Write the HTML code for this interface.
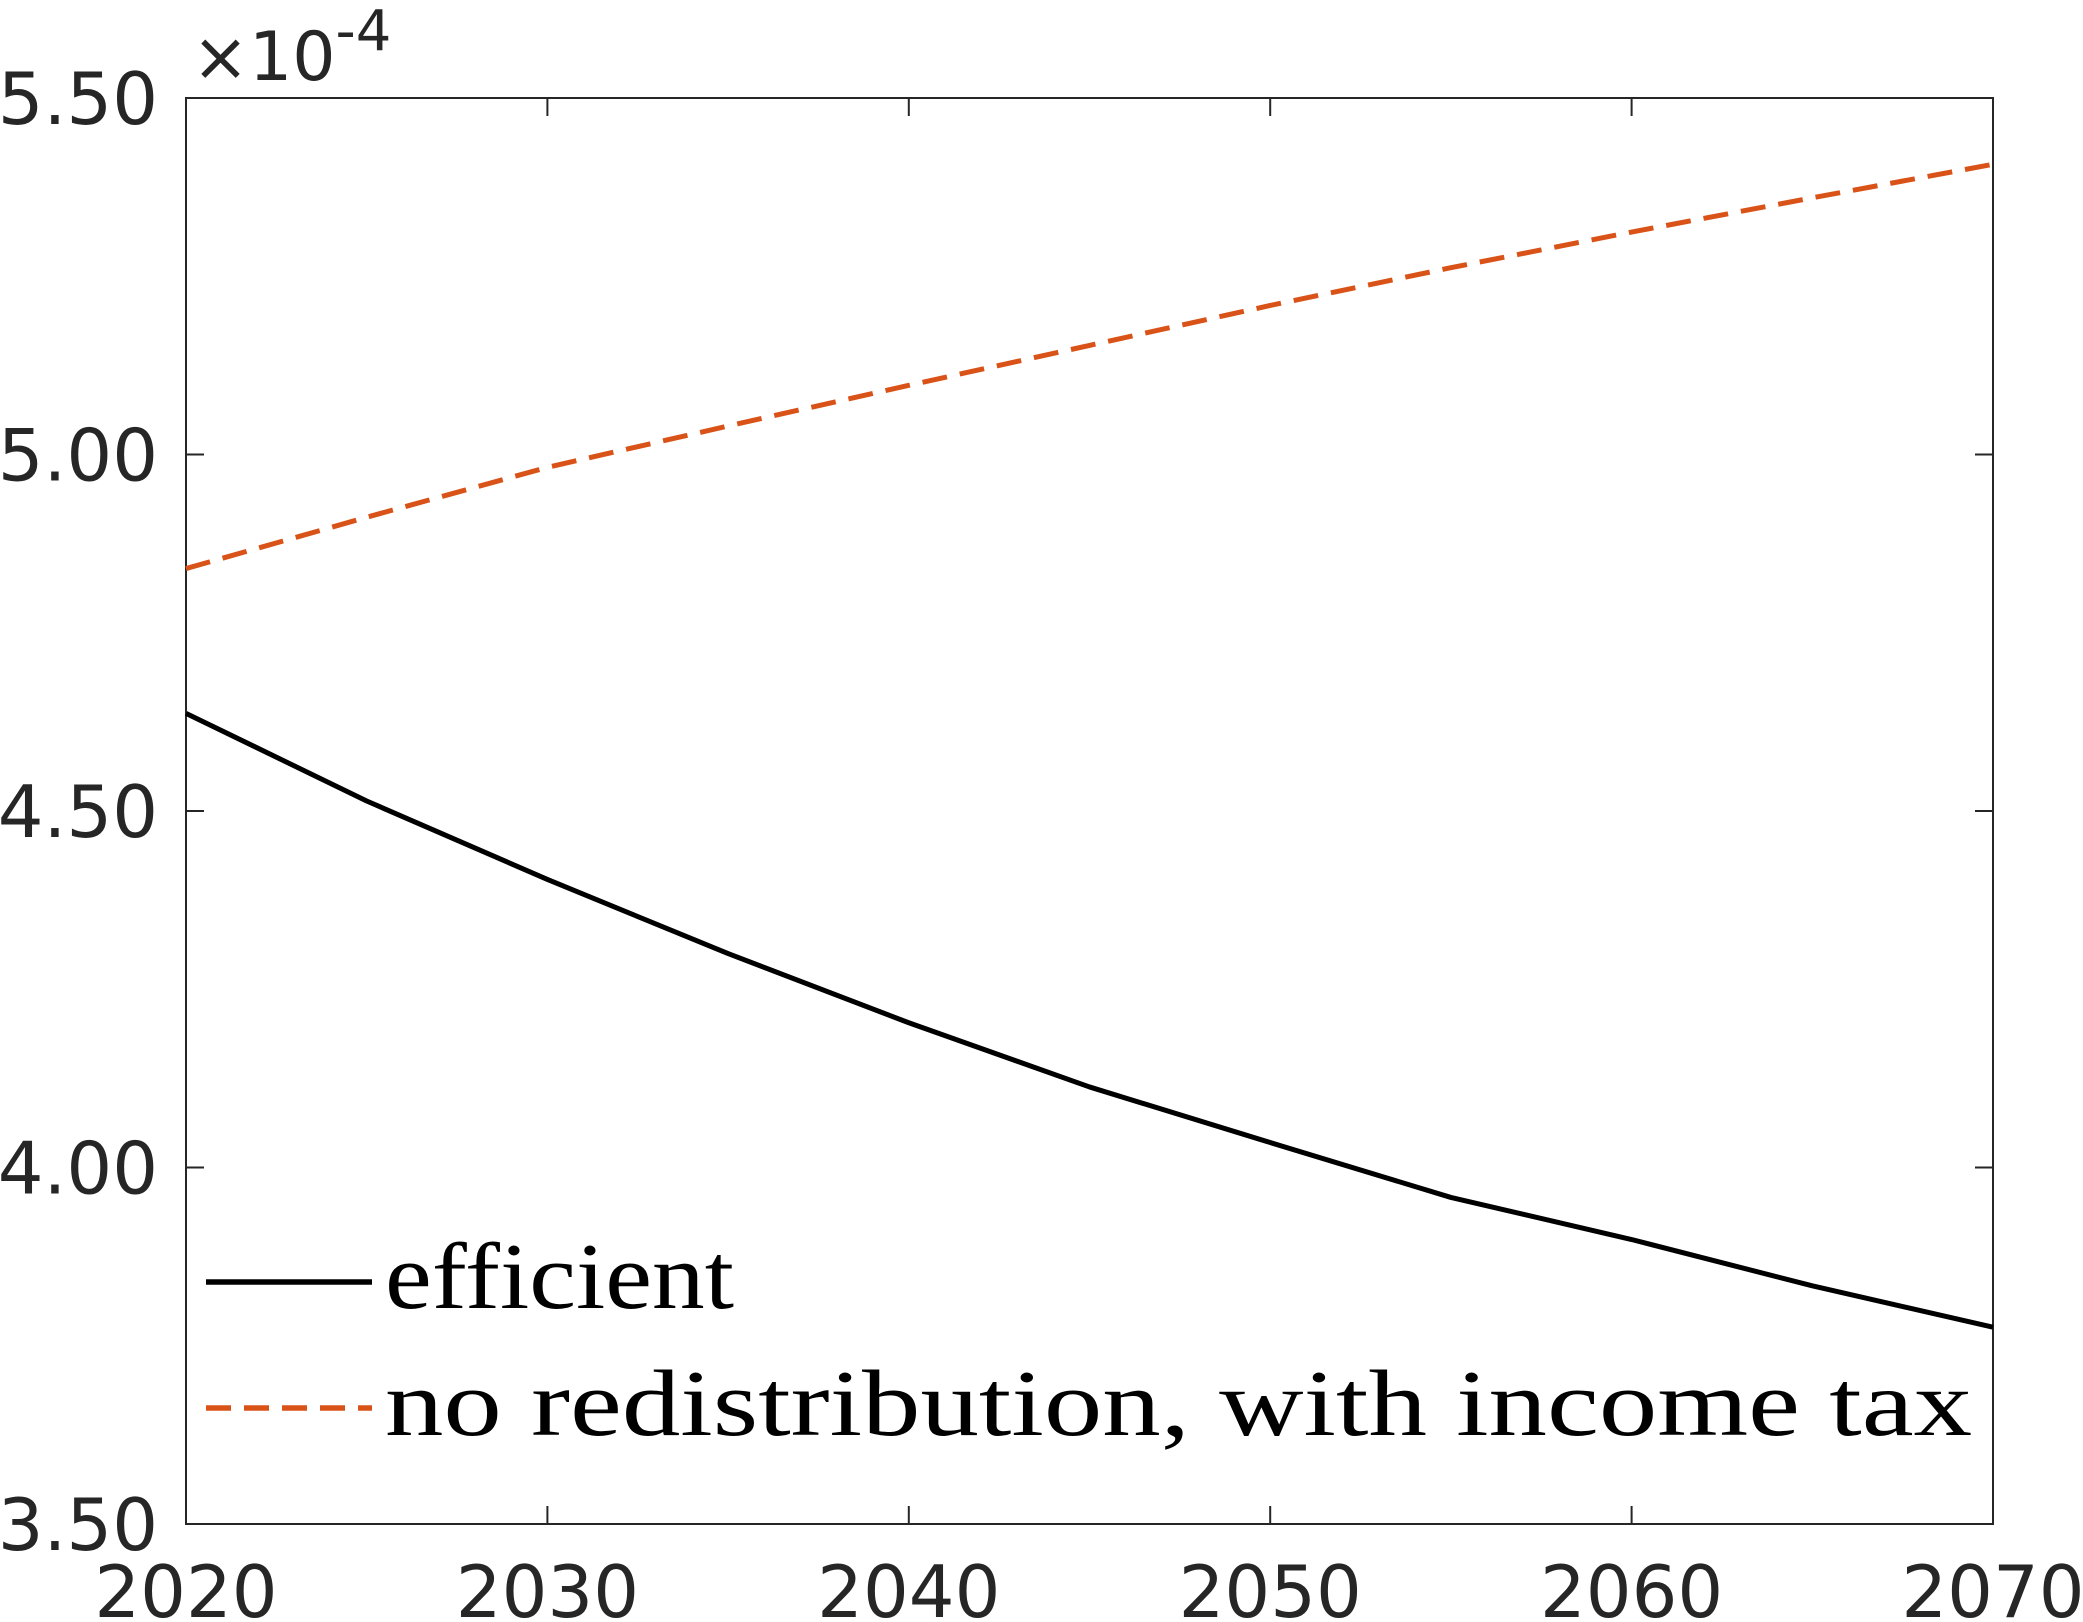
<!DOCTYPE html>
<html><head><meta charset="utf-8"><style>
html,body{margin:0;padding:0;background:#fff;}
svg{display:block;}
</style></head><body>
<svg id="chart" width="2083" height="1622" viewBox="0 0 2083 1622" xmlns="http://www.w3.org/2000/svg">
<g id="axes"></g>
<g id="series"></g>
<text x="192" y="80" font-family="DejaVu Sans, Liberation Sans, sans-serif" font-size="68" fill="#262626">×10<tspan dy="-30" font-size="56">-4</tspan></text>
<g>
<line x1="206" y1="1282" x2="372" y2="1282" stroke="#000" stroke-width="5.5"/>
<text x="385" y="1308" font-family="Liberation Serif, serif" font-size="94" fill="#000" textLength="349" lengthAdjust="spacingAndGlyphs">efficient</text>
<line x1="206" y1="1408" x2="372" y2="1408" stroke="#D95319" stroke-width="5.5" stroke-dasharray="25,13"/>
<text x="385" y="1435" font-family="Liberation Serif, serif" font-size="94" fill="#000" textLength="1587" lengthAdjust="spacingAndGlyphs">no redistribution, with income tax</text>
</g>
</svg>
<script>
const years = [2020,2025,2030,2035,2040,2045,2050,2055,2060,2065,2070];
const efficient = [4.637,4.514,4.404,4.300,4.203,4.113,4.035,3.958,3.899,3.834,3.776];
const noRedist = [4.840,4.912,4.982,5.040,5.097,5.153,5.209,5.262,5.312,5.360,5.407];
const xTicks = [2020,2030,2040,2050,2060,2070];
const yTicks = [3.5,4.0,4.5,5.0,5.5];
const yTickLabels = ["3.50","4.00","4.50","5.00","5.50"];

const L=186,R=1993,T=98,B=1524;
const xs=v=>L+(v-2020)/50*(R-L);
const ys=v=>B-(v-3.5)/2*(B-T);
const NS="http://www.w3.org/2000/svg";
function mk(tag,attrs,parent){const e=document.createElementNS(NS,tag);for(const k in attrs)e.setAttribute(k,attrs[k]);parent.appendChild(e);return e;}
const axes=document.getElementById('axes');
const box=mk('rect',{x:L,y:T,width:R-L,height:B-T,fill:'none',stroke:'#262626','stroke-width':2},axes);


const tl=18;
xTicks.forEach(v=>{
  const x=xs(v);
  const t1=mk('line',{x1:x,y1:B,x2:x,y2:B-tl,stroke:'#262626','stroke-width':2},axes);
  
  
  const t2=mk('line',{x1:x,y1:T,x2:x,y2:T+tl,stroke:'#262626','stroke-width':2},axes);
  
  
  const tx=mk('text',{x:x,y:1617,'text-anchor':'middle','font-family':'DejaVu Sans, Liberation Sans, sans-serif','font-size':72,fill:'#262626'},axes);
  tx.textContent=v;
  
  
});
yTicks.forEach((v,i)=>{
  const y=ys(v);
  const t1=mk('line',{x1:L,y1:y,x2:L+tl,y2:y,stroke:'#262626','stroke-width':2},axes);
  
  
  const t2=mk('line',{x1:R,y1:y,x2:R-tl,y2:y,stroke:'#262626','stroke-width':2},axes);
  
  
  const tx=mk('text',{x:158,y:y+26,'text-anchor':'end','font-family':'DejaVu Sans, Liberation Sans, sans-serif','font-size':72,fill:'#262626'},axes);
  tx.textContent=yTickLabels[i];
  
  
});
const series=document.getElementById('series');
const p1=mk('polyline',{points:years.map((y,i)=>xs(y)+','+ys(efficient[i])).join(' '),fill:'none',stroke:'#000','stroke-width':5,'stroke-linejoin':'round'},series);


const p2=mk('polyline',{points:years.map((y,i)=>xs(y)+','+ys(noRedist[i])).join(' '),fill:'none',stroke:'#D95319','stroke-width':5,'stroke-dasharray':'25,13'},series);


</script>
</body></html>
